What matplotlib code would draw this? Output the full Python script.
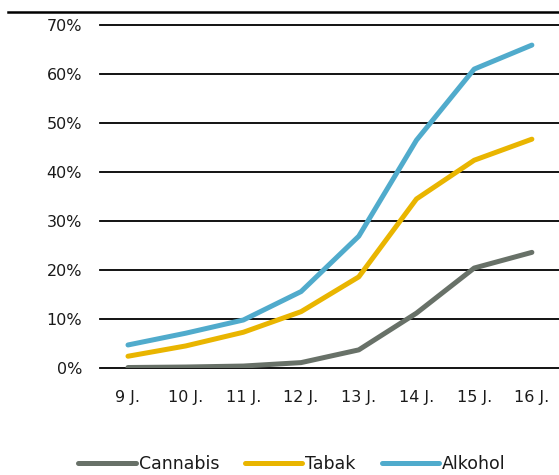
import matplotlib
matplotlib.use("Agg")
import matplotlib.pyplot as plt
from matplotlib.lines import Line2D

# Data
ages = ["9 J.", "10 J.", "11 J.", "12 J.", "13 J.", "14 J.", "15 J.", "16 J."]
cannabis = [0.1, 0.2, 0.4, 1.1, 3.7, 11.2, 20.4, 23.6]
tabak = [2.4, 4.5, 7.3, 11.5, 18.6, 34.5, 42.4, 46.7]
alkohol = [4.7, 7.1, 9.8, 15.6, 26.9, 46.5, 61.0, 65.9]
yticks = [0, 10, 20, 30, 40, 50, 60, 70]

plt.rcParams['font.family'] = ['DejaVu Sans']

W, H = 559, 475
fig = plt.figure(figsize=(W / 100, H / 100), dpi=100)
# axes from x=100..559, y=25..368 (pixels from top)
ax = fig.add_axes([100 / W, 1 - 368 / H, (559 - 100) / W, (368 - 25) / H])

x = list(range(len(ages)))
ax.plot(x, cannabis, color='#687168', lw=3.6, solid_capstyle='round', label='Cannabis', zorder=3)
ax.plot(x, tabak, color='#e9b500', lw=3.6, solid_capstyle='round', label='Tabak', zorder=3)
ax.plot(x, alkohol, color='#50abcc', lw=3.6, solid_capstyle='round', label='Alkohol', zorder=3)

ax.set_ylim(0, 70)
ax.set_xlim(-0.485, 7.47)
ax.set_yticks(yticks)
ax.set_yticklabels([f"{v}%" for v in yticks])
ax.set_xticks(x)
ax.set_xticklabels(ages)
ax.tick_params(length=0, labelsize=11.5, colors='#1a1a1a')
ax.tick_params(axis='y', pad=13)
ax.tick_params(axis='x', pad=16)
for v in yticks:
    ax.axhline(v, color='black', lw=1.3, zorder=1, clip_on=False)
for s in ax.spines.values():
    s.set_visible(False)

# top rule
fig.add_artist(Line2D([8 / W, 1], [1 - 12 / H, 1 - 12 / H], color='black', lw=1.8))

fig.legend(loc='center', bbox_to_anchor=(292 / W, 1 - 464 / H), ncol=3, frameon=False,
           fontsize=12.5, handlelength=3.3, handletextpad=0.17, columnspacing=1.5,
           labelcolor='#1a1a1a')

fig.savefig("out.png", dpi=100)
